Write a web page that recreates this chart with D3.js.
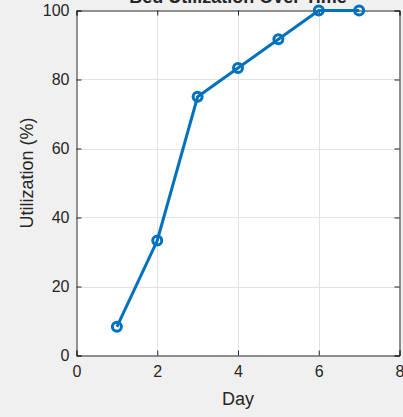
<!DOCTYPE html>
<html><head><meta charset="utf-8">
<script src="https://cdn.jsdelivr.net/npm/d3@7"></script>
<style>html,body{margin:0;padding:0;background:#f0f0f0;}svg{display:block;}</style>
</head><body>
<script>
const days = [1, 2, 3, 4, 5, 6, 7];
const utilization = [8.33, 33.33, 75, 83.33, 91.67, 100, 100];
const xTicks = [0, 2, 4, 6, 8];
const yTicks = [0, 20, 40, 60, 80, 100];
const titleText = "Bed Utilization Over Time";
const xLabel = "Day";
const yLabel = "Utilization (%)";

const W = 403, H = 417;
const m = {left: 76.5, right: 3, top: 10.5, bottom: 61.5};
const svg = d3.select("body").append("svg").attr("width", W).attr("height", H);
svg.append("rect").attr("width", W).attr("height", H).attr("fill", "#f0f0f0");

const x = d3.scaleLinear().domain([0, 8]).range([m.left, W - m.right - 0.5]);
const y = d3.scaleLinear().domain([0, 100]).range([H - m.bottom, m.top]);
const font = "'Liberation Sans', Arial, Helvetica, sans-serif";

svg.append("rect").attr("x", x(0)).attr("y", y(100))
  .attr("width", x(8) - x(0)).attr("height", y(0) - y(100)).attr("fill", "#fff");

// grid
svg.append("g").selectAll("line").data(xTicks.slice(1, -1)).join("line")
  .attr("x1", d => Math.round(x(d)) + 0.5).attr("x2", d => Math.round(x(d)) + 0.5)
  .attr("y1", y(0)).attr("y2", y(100)).attr("stroke", "#e3e3e3").attr("stroke-width", 1);
svg.append("g").selectAll("line").data(yTicks.slice(1, -1)).join("line")
  .attr("y1", d => Math.round(y(d)) + 0.5).attr("y2", d => Math.round(y(d)) + 0.5)
  .attr("x1", x(0)).attr("x2", x(8)).attr("stroke", "#e3e3e3").attr("stroke-width", 1);

// axes
const axColor = "#262626";
const xAxis = svg.append("g").attr("transform", `translate(0,${y(0)})`)
  .call(d3.axisBottom(x).tickValues(xTicks).tickSize(-5).tickPadding(10).tickFormat(d3.format("d")));
const yAxis = svg.append("g").attr("transform", `translate(${x(0)},0)`)
  .call(d3.axisLeft(y).tickValues(yTicks).tickSize(-5).tickPadding(7).tickFormat(d3.format("d")));
const xAxisTop = svg.append("g").attr("transform", `translate(0,${y(100)})`)
  .call(d3.axisTop(x).tickValues(xTicks).tickSize(-5).tickFormat(""));
const yAxisRight = svg.append("g").attr("transform", `translate(${x(8)},0)`)
  .call(d3.axisRight(y).tickValues(yTicks).tickSize(-5).tickFormat(""));
[xAxis, yAxis, xAxisTop, yAxisRight].forEach(g => {
  g.selectAll("path").attr("stroke", axColor).attr("stroke-width", 1);
  g.selectAll("line").attr("stroke", axColor).attr("stroke-width", 1);
  g.selectAll("text").attr("fill", "#262626").attr("font-family", font).attr("font-size", 16);
});

// line
svg.append("path").datum(days.map((d, i) => [d, utilization[i]]))
  .attr("fill", "none").attr("stroke", "#0072BD").attr("stroke-width", 3)
  .attr("stroke-linejoin", "round")
  .attr("d", d3.line().x(d => x(d[0])).y(d => y(d[1])));
svg.append("g").selectAll("circle").data(days).join("circle")
  .attr("cx", d => x(d)).attr("cy", (d, i) => y(utilization[i])).attr("r", 4.5)
  .attr("fill", "none").attr("stroke", "#0072BD").attr("stroke-width", 3);

// labels
svg.append("text").attr("x", (x(0) + x(8)) / 2).attr("y", 405)
  .attr("text-anchor", "middle").attr("font-family", font).attr("font-size", 18)
  .attr("fill", "#262626").text(xLabel);
svg.append("text").attr("transform", `translate(33,${(y(0) + y(100)) / 2 - 10}) rotate(-90)`)
  .attr("text-anchor", "middle").attr("font-family", font).attr("font-size", 18)
  .attr("fill", "#262626").text(yLabel);
svg.append("text").attr("x", (x(0) + x(8)) / 2).attr("y", 2.5)
  .attr("text-anchor", "middle").attr("font-family", font).attr("font-size", 18)
  .attr("font-weight", "bold").attr("fill", "#262626").text(titleText);
</script>
</body></html>
